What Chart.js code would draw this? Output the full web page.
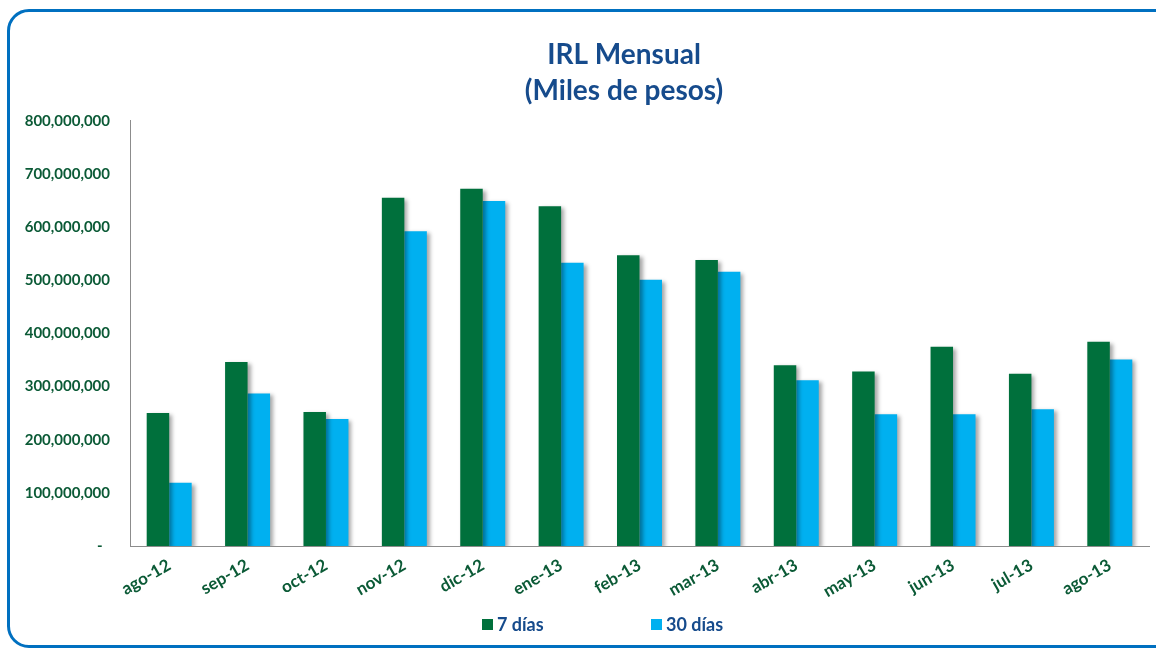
<!DOCTYPE html>
<html>
<head>
<meta charset="utf-8">
<title>IRL Mensual</title>
<script src="https://cdn.jsdelivr.net/npm/chart.js@4.4.1/dist/chart.umd.min.js"></script>
<style>
    html, body { margin: 0; padding: 0; background: #fff; }
    /* marco azul redondeado, se corta por la derecha como en la imagen */
    #marco {
        position: absolute; left: 7px; top: 9px;
        width: 1190px; height: 633px;
        border: 3px solid #0070c0; border-radius: 22px;
    }
    #contenedor { position: absolute; left: 0; top: 0; width: 1156px; height: 648px; }
</style>
</head>
<body>
<div id="marco"></div>
<div id="contenedor"><canvas id="grafico"></canvas></div>
<script>
// datos
const meses = ["ago-12", "sep-12", "oct-12", "nov-12", "dic-12", "ene-13", "feb-13",
               "mar-13", "abr-13", "may-13", "jun-13", "jul-13", "ago-13"];
const sieteDias = [250000000, 346000000, 252000000, 655000000, 672000000, 639000000, 547000000,
                   538000000, 340000000, 328000000, 375000000, 324000000, 384000000];
const treintaDias = [119000000, 287000000, 239000000, 592000000, 649000000, 533000000, 501000000,
                     516000000, 312000000, 248000000, 248000000, 257000000, 351000000];
const series = ["7 días", "30 días"];
const ejeMax = 800000000;
const ejePaso = 100000000;

const verde = "#00703c";
const celeste = "#00b0f0";
const textoVerde = "#0b5a36";
const textoAzul = "#164b8c";

// sombra de las barras (como en excel)
const sombra = {
    id: "sombra",
    beforeDatasetsDraw(chart) {
        const ctx = chart.ctx;
        ctx.save();
        ctx.shadowColor = "rgba(0,0,0,0.35)";
        ctx.shadowBlur = 4;
        ctx.shadowOffsetX = 3;
        ctx.shadowOffsetY = 2;
    },
    afterDatasetsDraw(chart) {
        chart.ctx.restore();
    }
};

// el titulo en el original no esta centrado en el canvas, lo muevo un poco
const moverTitulo = {
    id: "moverTitulo",
    afterLayout(chart) {
        const t = chart.titleBlock;
        const ancho = t.right - t.left;
        t.left = 624 - ancho / 2;
        t.right = 624 + ancho / 2;
    }
};

// leyenda abajo, con mucho hueco entre los dos items
const leyenda = {
    id: "leyenda",
    afterDraw(chart) {
        const ctx = chart.ctx;
        const y = 624;
        const xs = [482, 651];
        ctx.save();
        ctx.font = "bold 18px Lato";
        ctx.textBaseline = "middle";
        chart.data.datasets.forEach((ds, i) => {
            ctx.fillStyle = ds.backgroundColor;
            ctx.fillRect(xs[i], y - 5, 11, 11);
            ctx.fillStyle = textoAzul;
            ctx.fillText(ds.label, xs[i] + 15, y + 1);
        });
        ctx.restore();
    }
};

new Chart(document.getElementById("grafico"), {
    type: "bar",
    data: {
        labels: meses,
        datasets: [
            { label: series[0], data: sieteDias, backgroundColor: verde, categoryPercentage: 0.574, barPercentage: 1 },
            { label: series[1], data: treintaDias, backgroundColor: celeste, categoryPercentage: 0.574, barPercentage: 1 }
        ]
    },
    options: {
        responsive: true,
        maintainAspectRatio: false,
        animation: false,
        layout: { padding: { left: 20, right: 7, top: 0, bottom: 42 } },
        plugins: {
            legend: { display: false },
            tooltip: { enabled: false },
            title: {
                display: true,
                text: ["IRL Mensual", "(Miles de pesos)"],
                color: textoAzul,
                font: { family: "Lato", size: 28, weight: "bold", lineHeight: 1.28 },
                padding: { top: 37, bottom: 12 }
            }
        },
        scales: {
            x: {
                grid: { display: false, drawTicks: false },
                border: { color: "#8c8c8c" },
                ticks: {
                    color: textoVerde,
                    font: { family: "Lato", size: 17, weight: "bold" },
                    minRotation: 30, maxRotation: 30,
                    padding: 9,
                    autoSkip: false
                },
                afterFit(scale) { scale.height = 60; }
            },
            y: {
                min: 0,
                max: ejeMax,
                grid: { display: false, drawTicks: false },
                border: { color: "#8c8c8c" },
                ticks: {
                    stepSize: ejePaso,
                    padding: 20,
                    color: textoVerde,
                    font: { family: "Lato", size: 15, weight: "bold" },
                    callback: (v) => (v === 0 ? "-  " : v.toLocaleString("en-US"))
                },
                afterFit(scale) { scale.width = 110; }
            }
        }
    },
    plugins: [sombra, moverTitulo, leyenda]
});
</script>
</body>
</html>
